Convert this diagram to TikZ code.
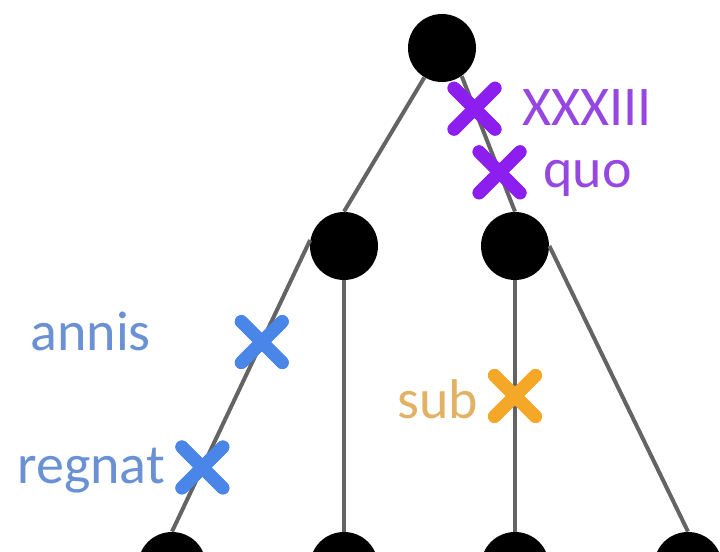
\documentclass[tikz,border=0pt]{standalone}
\usepackage{fontspec}
\setmainfont{Carlito}
\usepackage{tikz}
\definecolor{edgegray}{RGB}{100,100,100}
\definecolor{cutpurple}{RGB}{140,30,240}
\definecolor{txtpurple}{RGB}{150,70,225}
\definecolor{cutblue}{RGB}{74,134,232}
\definecolor{txtblue}{RGB}{105,145,212}
\definecolor{cutorange}{RGB}{245,168,40}
\definecolor{txtorange}{RGB}{226,178,100}
\usetikzlibrary{shapes.misc}

\begin{document}
\begin{tikzpicture}[x=0.5pt,y=-0.5pt,
    treenode/.style={circle, fill=black, inner sep=0pt, minimum size=34pt},
    edge/.style={edgegray, line width=2pt},
    cut/.style={cross out, draw, line width=6.5pt, line cap=round, inner sep=0pt, minimum size=14pt},
    lbl/.style={inner sep=0pt, anchor=base west, font=\fontsize{28}{32}\selectfont}]
    % page frame
    \useasboundingbox (0,0) rectangle (720,552);
    \clip (0,0) rectangle (720,552);

    % Tree nodes
    \node[treenode] (root) at (442,48) {};
    \node[treenode] (L) at (344,246) {};
    \node[treenode] (R) at (515,246) {};
    \foreach \x/\name in {172/BL,344/BML,515/BMR,688/BR} {
        \node[treenode] (\name) at (\x,566) {};
    }

    % Edges, with the cut marks sitting on them
    \draw[edge] (root) -- (L.north);
    \draw[edge] (root.-55) -- node[cut, cutpurple, pos=.24] (cutA) {}
        node[cut, cutpurple, pos=.71] (cutB) {} (R.north);
    \draw[edge] (L.170) -- node[cut, cutblue, pos=.35] (cutC) {}
        node[cut, cutblue, pos=.78] (cutD) {} (BL.north);
    \draw[edge] (L) -- (BML);
    \draw[edge] (R) -- node[cut, cutorange, pos=.46] (cutE) {} (BMR.north);
    \draw[edge] (R.east) -- (BR.north);
    % redraw the marks over the edges
    \foreach \c/\col in {cutA/cutpurple,cutB/cutpurple,cutC/cutblue,cutD/cutblue,cutE/cutorange} {
        \node[cut, \col] at (\c) {};
    }

    % Labels
    \node[lbl, txtpurple] (lblA) at (522,125) {XXXIII};
    \node[lbl, txtpurple] (lblB) at (543,187) {quo};
    \node[lbl, txtblue] (lblC) at (30,350) {annis};
    \node[lbl, txtblue] (lblD) at (17,483) {regnat};
    \node[lbl, txtorange] (lblE) at (397,418) {sub};
\end{tikzpicture}
\end{document}
